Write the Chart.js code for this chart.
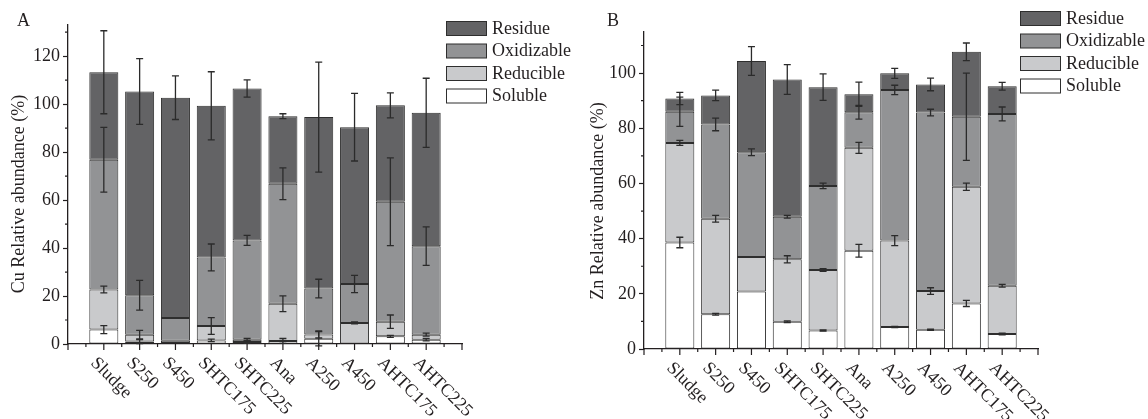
<!DOCTYPE html>
<html>
<head>
<meta charset="utf-8">
<script src="https://cdn.jsdelivr.net/npm/chart.js@4.4.1/dist/chart.umd.min.js"></script>
<style>
  html, body { margin: 0; padding: 0; background: #fff; }
  .panel { position: absolute; top: 0; width: 574px; height: 419px; }
</style>
</head>
<body>
<div class="panel" style="left:0"><canvas id="cuChart" width="574" height="419"></canvas></div>
<div class="panel" style="left:574px"><canvas id="znChart" width="574" height="419"></canvas></div>
<script>
const categories = ['Sludge', 'S250', 'S450', 'SHTC175', 'SHTC225', 'Ana', 'A250', 'A450', 'AHTC175', 'AHTC225'];
const fractions = ['Soluble', 'Reducible', 'Oxidizable', 'Residue'];
const fractionColors = ['#ffffff', '#c9cacc', '#929395', '#636365'];

// Cu fractions (%), stacked from the bottom
const cuSoluble    = [6.0, 1.0, 0.4, 1.5, 0.8, 1.3, 2.2, 0.2, 3.2, 1.8];
const cuReducible  = [16.7, 2.9, 1.0, 6.0, 1.0, 15.5, 1.8, 8.6, 6.1, 2.1];
const cuOxidizable = [54.1, 16.4, 9.4, 28.6, 41.4, 50.0, 19.1, 16.2, 50.0, 36.9];
const cuResidue    = [36.5, 85.0, 91.9, 63.2, 63.3, 28.2, 71.5, 65.4, 40.2, 55.6];
const cuSolubleErr    = [1.7, 0.8, 0, 0.5, 0.5, 1.0, 3.0, 0, 0.4, 0.5];
const cuReducibleErr  = [1.4, 1.8, 0, 3.5, 0.5, 3.3, 1.5, 0.4, 2.8, 0.6];
const cuOxidizableErr = [13.5, 6.2, 0, 5.6, 2.1, 6.6, 3.9, 3.6, 18.3, 8.0];
const cuResidueErr    = [17.3, 13.7, 9.1, 14.2, 3.6, 1.0, 22.9, 14.1, 5.2, 14.4];

// Zn fractions (%)
const znSoluble    = [38.6, 12.6, 20.8, 9.9, 6.7, 35.6, 8.0, 7.0, 16.5, 5.4];
const znReducible  = [36.1, 34.6, 12.5, 22.6, 21.9, 37.3, 31.3, 14.0, 42.3, 17.5];
const znOxidizable = [11.3, 34.2, 38.0, 15.4, 30.5, 12.9, 54.6, 64.7, 25.4, 62.3];
const znResidue    = [4.8, 10.5, 33.1, 49.8, 35.8, 6.5, 6.0, 10.2, 23.5, 10.0];
const znSolubleErr    = [1.9, 0.3, 0, 0.3, 0.2, 2.3, 0.2, 0.2, 1.1, 0.3];
const znReducibleErr  = [0.9, 1.2, 0, 1.3, 0.5, 2.0, 1.8, 1.2, 1.3, 0.5];
const znOxidizableErr = [5.3, 2.3, 1.2, 0.5, 1.0, 2.5, 1.7, 1.2, 15.8, 2.5];
const znResidueErr    = [2.2, 1.9, 5.2, 5.4, 4.8, 4.4, 1.8, 2.3, 3.2, 1.4];

const cuTicks = [0, 20, 40, 60, 80, 100, 120];
const znTicks = [0, 20, 40, 60, 80, 100];

const FONT = '"Liberation Serif", "Times New Roman", serif';
const INK = '#231f20';

// one empty slot on each side of the bars
const pad = arr => [null, ...arr, null];

const panelPlugin = {
  id: 'panel',
  afterDatasetsDraw(chart, args, opts) {
    const ctx = chart.ctx;
    const x = chart.scales.x, y = chart.scales.y;
    const area = chart.chartArea;
    ctx.save();

    // error bars on top of each stacked segment
    ctx.strokeStyle = '#2b2b2b';
    ctx.lineWidth = 1.3;
    chart.data.datasets.forEach((ds, i) => {
      const meta = chart.getDatasetMeta(i);
      ds.data.forEach((v, j) => {
        if (v === null) return;
        const err = opts.errors[i][j - 1];
        if (!err) return;
        let top = 0;
        for (let k = 0; k <= i; k++) top += chart.data.datasets[k].data[j];
        const bx = meta.data[j].x;
        const y1 = y.getPixelForValue(top + err);
        const y2 = y.getPixelForValue(top - err);
        ctx.beginPath();
        ctx.moveTo(bx, y1); ctx.lineTo(bx, y2);
        ctx.moveTo(bx - 3.5, y1); ctx.lineTo(bx + 3.5, y1);
        ctx.moveTo(bx - 3.5, y2); ctx.lineTo(bx + 3.5, y2);
        ctx.stroke();
      });
    });

    // minor ticks
    ctx.strokeStyle = INK;
    ctx.lineWidth = 1.2;
    ctx.beginPath();
    for (let v = 10; v <= y.max; v += 20) {
      const py = y.getPixelForValue(v);
      ctx.moveTo(area.left, py); ctx.lineTo(area.left - 3, py);
    }
    const n = chart.data.labels.length;
    for (let j = 0; j < n; j++) {
      const px = x.getPixelForValue(j);
      ctx.moveTo(px, area.bottom); ctx.lineTo(px, area.bottom + 6);
      if (j < n - 1) {
        const mx = x.getPixelForValue(j + 0.5);
        ctx.moveTo(mx, area.bottom); ctx.lineTo(mx, area.bottom + 3);
      }
    }
    ctx.stroke();

    // rotated category labels
    ctx.fillStyle = INK;
    ctx.font = '18px ' + FONT;
    ctx.textAlign = 'left';
    ctx.textBaseline = 'top';
    chart.data.labels.forEach((lab, j) => {
      if (!lab) return;
      const px = x.getPixelForValue(j);
      ctx.save();
      ctx.translate(px - 4, area.bottom + 10);
      ctx.rotate(Math.PI / 4);
      ctx.fillText(lab, 0, 0);
      ctx.restore();
    });

    // axis title
    ctx.save();
    ctx.translate(opts.titleX, opts.titleY);
    ctx.rotate(-Math.PI / 2);
    ctx.textAlign = 'center';
    ctx.textBaseline = 'middle';
    ctx.font = '18px ' + FONT;
    ctx.fillText(opts.title, 0, 0);
    ctx.restore();

    // panel letter
    ctx.font = '18px ' + FONT;
    ctx.textAlign = 'left';
    ctx.textBaseline = 'middle';
    ctx.fillText(opts.letter, opts.letterX, 21);

    // legend, top to bottom: Residue .. Soluble
    for (let r = 0; r < 4; r++) {
      const i = 3 - r;
      const ty = opts.legendTop + r * 22.5;
      ctx.fillStyle = fractionColors[i];
      ctx.fillRect(446.5, ty, 40, 14);
      ctx.strokeStyle = '#2e2e2e';
      ctx.lineWidth = 1;
      ctx.strokeRect(446.5, ty, 40, 14);
      ctx.fillStyle = INK;
      ctx.fillText(fractions[i], 492, ty + 7.5);
    }
    ctx.restore();
  }
};

function makeChart(id, cfg) {
  const series = cfg.series;
  return new Chart(document.getElementById(id), {
    type: 'bar',
    data: {
      labels: pad(categories),
      datasets: series.map((s, i) => ({
        label: fractions[i],
        data: pad(s),
        backgroundColor: fractionColors[i],
        borderColor: '#2e2e2e',
        borderWidth: 1,
        borderSkipped: false,
        stack: 'all',
        barPercentage: 0.81,
        categoryPercentage: 1
      }))
    },
    options: {
      responsive: false,
      animation: false,
      devicePixelRatio: 1,
      layout: { padding: { left: 0, top: cfg.top, right: cfg.right, bottom: 0 } },
      scales: {
        x: {
          stacked: true,
          offset: false,
          grid: { display: false },
          ticks: { display: false },
          border: { color: INK, width: 1.3 },
          afterFit: s => { s.height = cfg.xHeight; }
        },
        y: {
          stacked: true,
          min: 0,
          max: cfg.max,
          afterBuildTicks: s => { s.ticks = cfg.ticks.map(v => ({ value: v })); },
          ticks: { font: { family: FONT, size: 18 }, color: INK, padding: 3 },
          grid: { drawOnChartArea: false, tickLength: 5, color: INK, tickWidth: 1.2 },
          border: { color: INK, width: 1.3 },
          afterFit: s => { s.width = cfg.yWidth; }
        }
      },
      plugins: {
        legend: { display: false },
        tooltip: { enabled: false },
        panel: {
          errors: cfg.errors,
          title: cfg.title,
          titleX: cfg.titleX,
          titleY: cfg.titleY,
          letter: cfg.letter,
          letterX: cfg.letterX,
          legendTop: cfg.legendTop
        }
      }
    },
    plugins: [panelPlugin]
  });
}

makeChart('cuChart', {
  series: [cuSoluble, cuReducible, cuOxidizable, cuResidue],
  errors: [cuSolubleErr, cuReducibleErr, cuOxidizableErr, cuResidueErr],
  ticks: cuTicks, max: 133,
  top: 25, right: 112, xHeight: 75, yWidth: 68,
  title: 'Cu Relative abundance (%)', titleX: 19, titleY: 194,
  letter: 'A', letterX: 17, legendTop: 21.5
});

makeChart('znChart', {
  series: [znSoluble, znReducible, znOxidizable, znResidue],
  errors: [znSolubleErr, znReducibleErr, znOxidizableErr, znResidueErr],
  ticks: znTicks, max: 115,
  top: 31.7, right: 110, xHeight: 70, yWidth: 70,
  title: 'Zn Relative abundance (%)', titleX: 24, titleY: 201,
  letter: 'B', letterX: 33, legendTop: 11.5
});
</script>
</body>
</html>
